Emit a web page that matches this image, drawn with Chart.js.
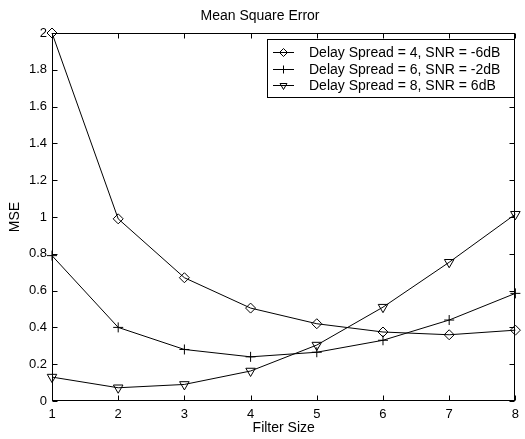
<!DOCTYPE html>
<html>
<head>
<meta charset="utf-8">
<script src="https://cdn.jsdelivr.net/npm/chart.js@4/dist/chart.umd.min.js"></script>
<style>
html,body{margin:0;padding:0;background:#fff;}
#c{display:block;}
</style>
</head>
<body>
<canvas id="c" width="525" height="439"></canvas>
<script>
// ---- Data ----
const filterSizes = [1, 2, 3, 4, 5, 6, 7, 8];
const seriesLabels = [
  'Delay Spread = 4, SNR = -6dB',
  'Delay Spread = 6, SNR = -2dB',
  'Delay Spread = 8, SNR = 6dB'
];
const mseSpread4 = [2.00, 0.99, 0.67, 0.505, 0.42, 0.375, 0.36, 0.385];
const mseSpread6 = [0.79, 0.40, 0.28, 0.24, 0.265, 0.33, 0.44, 0.585];
const mseSpread8 = [0.13, 0.072, 0.09, 0.163, 0.304, 0.51, 0.754, 1.015];
const xTickValues = [1, 2, 3, 4, 5, 6, 7, 8];
const yTickValues = [0, 0.2, 0.4, 0.6, 0.8, 1, 1.2, 1.4, 1.6, 1.8, 2];
const yTickLabels = ['0', '0.2', '0.4', '0.6', '0.8', '1', '1.2', '1.4', '1.6', '1.8', '2'];

const FONT = '"Liberation Sans", Arial, Helvetica, sans-serif';

function pts(vals) { return filterSizes.map((x, i) => ({ x: x, y: vals[i] })); }

const markerStyles = [
  { pointStyle: 'rectRot', pointRadius: 5, pointRotation: 0 },
  { pointStyle: 'cross', pointRadius: 5, pointRotation: 0 },
  { pointStyle: 'triangle', pointRadius: 5.5, pointRotation: 180 }
];
const seriesValues = [mseSpread4, mseSpread6, mseSpread8];

const datasets = seriesValues.map((vals, i) => ({
  label: seriesLabels[i],
  data: pts(vals),
  borderColor: '#000',
  borderWidth: 1,
  backgroundColor: 'rgba(0,0,0,0)',
  pointBackgroundColor: 'rgba(0,0,0,0)',
  pointBorderColor: '#000',
  pointBorderWidth: 1,
  pointStyle: markerStyles[i].pointStyle,
  pointRadius: markerStyles[i].pointRadius,
  pointRotation: markerStyles[i].pointRotation,
  tension: 0,
  clip: false
}));

const framePlugin = {
  id: 'frame',
  afterDraw(chart) {
    const { ctx, chartArea: a, scales } = chart;
    ctx.save();
    ctx.strokeStyle = '#000';
    ctx.lineWidth = 1;
    const L = Math.round(a.left) + 0.5, R = Math.round(a.right) - 0.5;
    const T = Math.round(a.top) + 0.5, B = Math.round(a.bottom) - 0.5;
    ctx.strokeRect(L, T, R - L, B - T);
    const tl = 5;
    ctx.beginPath();
    yTickValues.forEach(v => {
      const y = Math.round(scales.y.getPixelForValue(v)) + 0.5;
      ctx.moveTo(L, y); ctx.lineTo(L + tl, y);
      ctx.moveTo(R, y); ctx.lineTo(R - tl, y);
    });
    xTickValues.forEach(v => {
      const x = Math.round(scales.x.getPixelForValue(v)) + 0.5;
      ctx.moveTo(x, B); ctx.lineTo(x, B - tl);
      ctx.moveTo(x, T); ctx.lineTo(x, T + tl);
    });
    ctx.stroke();

    // Legend box
    const bx = 267.5, by = 39.5, bw = 247, bh = 58;
    ctx.fillStyle = '#fff';
    ctx.fillRect(bx, by, bw, bh);
    ctx.strokeRect(bx, by, bw, bh);
    ctx.font = '14px ' + FONT;
    ctx.textBaseline = 'middle';
    ctx.textAlign = 'left';
    chart.data.datasets.forEach((ds, i) => {
      const cy = Math.round(52 + i * 16.5) + 0.5;
      ctx.beginPath();
      ctx.moveTo(273, cy); ctx.lineTo(294, cy);
      ctx.strokeStyle = '#000';
      ctx.lineWidth = 1;
      ctx.stroke();
      ctx.fillStyle = 'rgba(0,0,0,0)';
      Chart.helpers.drawPoint(ctx, {
        pointStyle: ds.pointStyle,
        radius: 4,
        rotation: ds.pointRotation,
        borderWidth: 1
      }, 283.5, cy);
      ctx.fillStyle = '#000';
      ctx.fillText(ds.label, 309, cy + 0.5);
    });
    ctx.restore();
  }
};

new Chart(document.getElementById('c'), {
  type: 'line',
  data: { datasets: datasets },
  options: {
    responsive: false,
    animation: false,
    devicePixelRatio: 1,
    layout: { padding: { top: 0, left: 0, right: 5, bottom: 0 } },
    plugins: {
      legend: { display: false },
      tooltip: { enabled: false },
      title: {
        display: true,
        text: 'Mean Square Error',
        color: '#000',
        font: { family: FONT, size: 14, weight: 'normal' },
        padding: { top: 8, bottom: 8.2 }
      }
    },
    scales: {
      x: {
        type: 'linear',
        min: 1, max: 8,
        afterBuildTicks(scale) { scale.ticks = xTickValues.map(v => ({ value: v })); },
        afterFit(scale) { scale.height = 38; },
        grid: { display: false, drawTicks: false },
        border: { display: false },
        ticks: {
          color: '#000',
          padding: 6,
          font: { family: FONT, size: 13 },
          callback: (v) => String(v)
        },
        title: {
          display: true,
          text: 'Filter Size',
          color: '#000',
          font: { family: FONT, size: 14 },
          padding: { top: 0, bottom: 2 }
        }
      },
      y: {
        type: 'linear',
        min: 0, max: 2,
        afterBuildTicks(scale) { scale.ticks = yTickValues.map(v => ({ value: v })); },
        afterFit(scale) { scale.width = 52; },
        grid: { display: false, drawTicks: false },
        border: { display: false },
        ticks: {
          color: '#000',
          padding: 5,
          font: { family: FONT, size: 13 },
          callback: (v) => { const i = yTickValues.findIndex(t => Math.abs(t - v) < 1e-9); return i >= 0 ? yTickLabels[i] : ''; }
        },
        title: {
          display: true,
          text: 'MSE',
          color: '#000',
          font: { family: FONT, size: 14 },
          padding: { top: 7, bottom: 0 }
        }
      }
    }
  },
  plugins: [framePlugin]
});
</script>
</body>
</html>
